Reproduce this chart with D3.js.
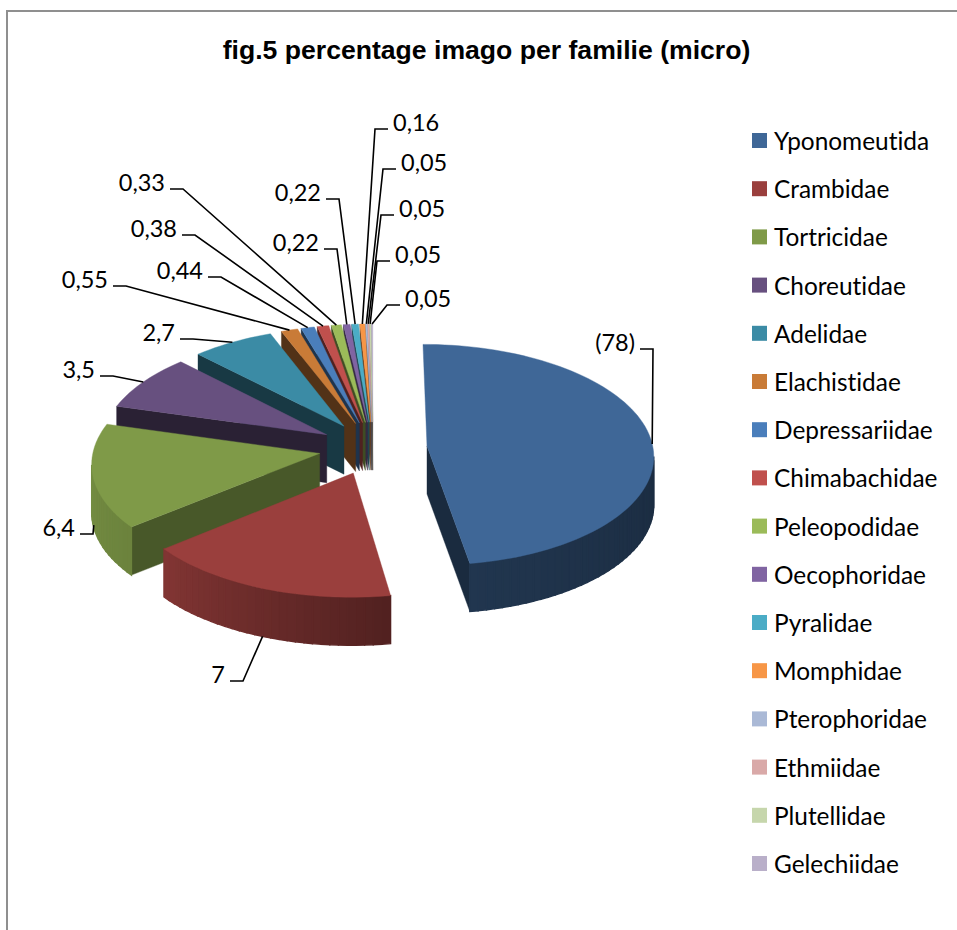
<!DOCTYPE html>
<html><head><meta charset="utf-8">
<style>html,body{margin:0;padding:0;background:#fff}svg{display:block}text{font-variant-ligatures:none}</style>
<script src="https://cdn.jsdelivr.net/npm/d3@7"></script></head>
<body><svg id="chart" width="957" height="930"></svg>
<script>
const title = "fig.5 percentage imago per familie (micro)";
const categories = ["Yponomeutida","Crambidae","Tortricidae","Choreutidae","Adelidae","Elachistidae","Depressariidae","Chimabachidae","Peleopodidae","Oecophoridae","Pyralidae","Momphidae","Pterophoridae","Ethmiidae","Plutellidae","Gelechiidae"];
// the first wedge is drawn shortened in the original, hence its bracketed label
const drawnValues = [20,7,6.4,3.5,2.7,0.55,0.44,0.38,0.33,0.22,0.22,0.16,0.05,0.05,0.05,0.05];
const valueLabels = ["(78)","7","6,4","3,5","2,7","0,55","0,44","0,38","0,33","0,22","0,22","0,16","0,05","0,05","0,05","0,05"];
const colors = ["#3F6797","#9A3F3D","#7F9A48","#67507F","#3B8BA5","#C97B37","#4A7EBB","#C0504D","#9BBB59","#8064A2","#4BACC6","#F79646","#AAB9D6","#D9A9A8","#C6D6AC","#B9AFC9"];

// label layout: text x, text centre y, text anchor, position along the arc, position down the wall
const labelLayout = [
 [635,342,"end",.52,0],[225,674,"end",.5,1],[75,527,"end",.47,.95],[95,369,"end",.5,0],[175,332,"end",.5,0],
 [108,279,"end",.5,0],[203,270,"end",.5,0],[177,228,"end",.5,0],[165,182,"end",.5,0],[319,242,"end",.5,0],[321,192,"end",.5,0],
 [393,122,"start",.5,0],[401,162,"start",.5,0],[399,208,"start",.5,0],[395,254,"start",.5,0],[405,298,"start",.5,0]];

const svg = d3.select("#chart");
const cx=373, cy=448, Rx=226, Ry=110, persp=.08, explode=.24, depth=48;
const project=(ux,uy,z=0)=>{const s=1/(1-persp*uy);return [cx+Rx*ux*s, cy+Ry*uy*s+depth*z];};
const pie=d3.pie().sort(null).value(d=>d)(drawnValues);
const line=d3.line();
const deg=r=>r*180/Math.PI;
const arcShade=d3.scaleLinear().domain([90,170,232,285]).range([.42,.52,.85,.95]).clamp(true);
const radialShade=d3.scaleLinear().domain([232,286]).range([.57,.41]).clamp(true);
const shade=(c,f)=>{const k=d3.rgb(c);return d3.rgb(k.r*f,k.g*f,k.b*f).formatHex();};

// chart frame
svg.append("path").attr("d","M7,930V11H957").attr("fill","none").attr("stroke","#8f8f8f").attr("stroke-width",2);

const slices=pie.map((p,i)=>{
  const mid=(p.startAngle+p.endAngle)/2;
  const ox=explode*Math.sin(mid), oy=-explode*Math.cos(mid);
  const at=(a,r=1)=>[ox+r*Math.sin(a), oy-r*Math.cos(a)];
  return {p,i,ox,oy,at,mid};
});
// paint from the back forward
const order=[...slices].sort((a,b)=>a.oy-b.oy);
const gPie=svg.append("g");
order.forEach(s=>{
  const {p,i,at,ox,oy}=s, c=colors[i], g=gPie.append("g").attr("class","slice");
  const n=Math.max(4,Math.ceil(deg(p.endAngle-p.startAngle)/2));
  const angles=d3.range(n+1).map(k=>p.startAngle+(p.endAngle-p.startAngle)*k/n);
  const quad=(a,b,fill,sw)=>{
    g.append("path").attr("d",line([project(...a),project(...b),project(...b,1),project(...a,1)])+"Z").attr("fill",fill).attr("stroke",fill).attr("stroke-width",sw);
  };
  if(Math.sin(p.startAngle)<-1e-6) quad([ox,oy],at(p.startAngle),shade(c,radialShade(deg(p.startAngle))),.4);
  if(Math.sin(p.endAngle)>1e-6) quad([ox,oy],at(p.endAngle),shade(c,.42),.4);
  for(let k=0;k<n;k++){
    const a=at(angles[k]),b=at(angles[k+1]);
    if(project(...b)[0]<project(...a)[0]) quad(a,b,shade(c,arcShade(deg((angles[k]+angles[k+1])/2))),1.4);
  }
  const top=[project(ox,oy),...angles.map(a=>project(...at(a)))];
  g.append("path").attr("d",line(top)+"Z").attr("fill",c).attr("stroke",c).attr("stroke-width",.4);
});

// data labels and leader lines
const labelFont="Lato, Carlito, sans-serif";
const gLab=svg.append("g");
slices.forEach(s=>{
  const [tx,ty,anchor,frac,z]=labelLayout[s.i];
  const a=s.p.startAngle+(s.p.endAngle-s.p.startAngle)*frac;
  const end=project(...s.at(a),z);
  const dir=anchor==="end"?1:-1;
  const x0=tx+dir*5, x1=x0+dir*13, ly=ty+7;
  gLab.append("path").attr("d",line([[x0,ly],[x1,ly],end])).attr("fill","none").attr("stroke","#000").attr("stroke-width",1.6);
  gLab.append("text").attr("x",tx).attr("y",ty).attr("text-anchor",anchor).attr("dominant-baseline","central")
    .attr("font-family",labelFont).attr("font-size",23.5).attr("fill","#000").text(valueLabels[s.i]);
});

// legend
const legendY=d3.scalePoint().domain(categories).range([140.5,863.5]);
const gLeg=svg.append("g");
categories.forEach((name,i)=>{
  gLeg.append("rect").attr("x",752).attr("y",legendY(name)-7.5).attr("width",15).attr("height",15).attr("fill",colors[i]);
  gLeg.append("text").attr("x",774).attr("y",legendY(name)).attr("dominant-baseline","central")
    .attr("font-family",labelFont).attr("font-size",24.4).attr("fill","#000").text(name);
});

svg.append("text").attr("x",486.5).attr("y",50).attr("text-anchor","middle").attr("dominant-baseline","central")
  .attr("font-family","'Liberation Sans', Arial, sans-serif").attr("font-weight","bold").attr("font-size",26.6).attr("fill","#000").text(title);
</script></body></html>
